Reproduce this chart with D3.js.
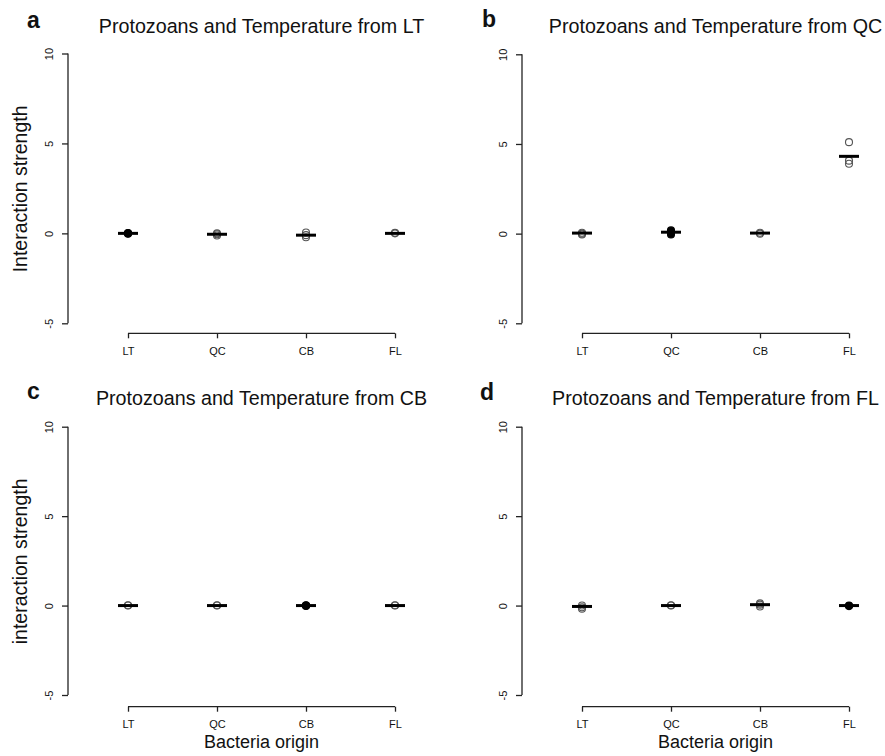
<!DOCTYPE html>
<html lang="en">
<head>
   <meta charset="UTF-8">
   <title>Protozoans and Temperature</title>
   <style>
      html, body { margin: 0; padding: 0; background: #fff; overflow: hidden; }
      svg { display: block; }
      text { font-family: "Liberation Sans", Arial, Helvetica, sans-serif; fill: #111; }
      .axis-line { stroke: #222; stroke-width: 1.3; fill: none; }
      .tick-label { font-size: 11px; }
      .title { font-size: 19.7px; }
      .letter { font-size: 23px; font-weight: bold; }
      .ylab { font-size: 19.5px; }
      .xlab { font-size: 18px; }
   </style>
   <script src="https://cdn.jsdelivr.net/npm/d3@7"></script>
</head>
<body>
   <svg id="chart" width="885" height="756"></svg>
   <script>
      // categories
      const origins = ['LT', 'QC', 'CB', 'FL']
      const sources = ['LT', 'QC', 'CB', 'FL']
      const panelLetters = ['a', 'b', 'c', 'd']
      const yLabels = ['Interaction strength', '', 'interaction strength', '']
      const xLabels = ['', '', 'Bacteria origin', 'Bacteria origin']
      const yTicks = [-5, 0, 5, 10]

      // mean interaction strength per bacteria origin (horizontal bars)
      const meansFromLT = [0, -0.05, -0.1, 0]
      const meansFromQC = [0.03, 0.08, 0.03, 4.31]
      const meansFromCB = [0, 0, 0, 0]
      const meansFromFL = [-0.05, 0, 0.05, 0]

      // individual replicates per bacteria origin (circles)
      const pointsFromLT = [[0, 0.02, -0.02], [-0.05, -0.12, 0], [-0.1, -0.22, 0.05], [0, 0.03]]
      const pointsFromQC = [[0, 0.05, -0.05], [0.12, 0.18, -0.05], [0, 0.05], [5.1, 4.07, 3.9]]
      const pointsFromCB = [[0, 0.02], [0, 0.02], [0, 0.02, -0.02], [0, 0.02]]
      const pointsFromFL = [[-0.1, -0.18, 0], [0, 0.02], [0.12, 0.05, -0.05], [0, -0.03]]

      const panelMeans = [meansFromLT, meansFromQC, meansFromCB, meansFromFL]
      const panelPoints = [pointsFromLT, pointsFromQC, pointsFromCB, pointsFromFL]

      const svg = d3.select('#chart')

      // panel geometry: y axis x, plot top/bottom, first/last x tick
      const layout = [
         { ax: 68, top: 53.5, bottom: 323.3, x0: 128, x1: 395, xAxisY: 333.3, titleY: 33, letterX: 27, letterY: 28 },
         { ax: 522, top: 54.3, bottom: 323.3, x0: 582, x1: 849, xAxisY: 333.3, titleY: 33, letterX: 482, letterY: 27 },
         { ax: 68, top: 426.7, bottom: 695, x0: 128, x1: 395, xAxisY: 706.7, titleY: 405, letterX: 27, letterY: 399 },
         { ax: 522, top: 426.7, bottom: 695, x0: 582, x1: 849, xAxisY: 706.7, titleY: 405, letterX: 480, letterY: 400 }
      ]

      sources.forEach((src, i) => {
         const L = layout[i]
         const g = svg.append('g')

         const x = d3.scalePoint().domain(origins).range([L.x0, L.x1])
         const y = d3.scaleLinear().domain([-5, 10]).range([L.bottom, L.top])

         // y axis (R style: line spans tick range, ticks outward)
         const yAxis = d3.axisLeft(y).tickValues(yTicks).tickSize(6).tickSizeOuter(0).tickPadding(0).tickFormat('')
         const yg = g.append('g').attr('transform', `translate(${L.ax},0)`).call(yAxis)
         yg.select('.domain').attr('class', 'axis-line').attr('d', `M0,${y(-5)}V${y(10)}`)
         yg.selectAll('.tick line').attr('stroke', '#222').attr('stroke-width', 1.3)
         yg.selectAll('.tick').append('text')
            .attr('class', 'tick-label')
            .attr('transform', 'rotate(-90)')
            .attr('x', 0).attr('y', -15)
            .attr('text-anchor', 'middle')
            .attr('fill', '#111')
            .text(d => d)

         // x axis
         const xAxis = d3.axisBottom(x).tickSize(5).tickSizeOuter(0).tickPadding(0).tickFormat('')
         const xg = g.append('g').attr('transform', `translate(0,${L.xAxisY})`).call(xAxis)
         xg.select('.domain').attr('class', 'axis-line').attr('d', `M${L.x0},0H${L.x1}`)
         xg.selectAll('.tick line').attr('stroke', '#222').attr('stroke-width', 1.3)
         xg.selectAll('.tick').append('text')
            .attr('class', 'tick-label')
            .attr('y', 21.5)
            .attr('text-anchor', 'middle')
            .attr('fill', '#111')
            .text(d => d)

         // title + panel letter
         g.append('text').attr('class', 'title')
            .attr('x', (L.x0 + L.x1) / 2).attr('y', L.titleY)
            .attr('text-anchor', 'middle')
            .text(`Protozoans and Temperature from ${src}`)
         g.append('text').attr('class', 'letter')
            .attr('x', L.letterX).attr('y', L.letterY)
            .text(panelLetters[i])

         if (yLabels[i]) {
            g.append('text').attr('class', 'ylab')
               .attr('transform', `translate(27,${(y(-5) + y(10)) / 2 + 0.5}) rotate(-90)`)
               .attr('text-anchor', 'middle')
               .text(yLabels[i])
         }
         if (xLabels[i]) {
            g.append('text').attr('class', 'xlab')
               .attr('x', (L.x0 + L.x1) / 2).attr('y', L.xAxisY + 41.5)
               .attr('text-anchor', 'middle')
               .text(xLabels[i])
         }

         // replicate points
         const pts = []
         panelPoints[i].forEach((vals, j) => vals.forEach(v => pts.push({ o: origins[j], v })))
         g.selectAll('circle.pt')
            .data(pts)
            .enter()
            .append('circle')
            .attr('class', 'pt')
            .attr('cx', d => x(d.o))
            .attr('cy', d => y(d.v))
            .attr('r', 3.5)
            .attr('fill', d => d.o === src ? '#000' : 'none')
            .attr('stroke', d => d.o === src ? '#000' : '#555')
            .attr('stroke-width', 1.1)

         // mean bars
         g.selectAll('line.mean')
            .data(panelMeans[i].map((m, j) => ({ o: origins[j], m })))
            .enter()
            .append('line')
            .attr('class', 'mean')
            .attr('x1', d => x(d.o) - 10)
            .attr('x2', d => x(d.o) + 10)
            .attr('y1', d => y(d.m))
            .attr('y2', d => y(d.m))
            .attr('stroke', '#000')
            .attr('stroke-width', 3)
      })
   </script>
</body>
</html>
